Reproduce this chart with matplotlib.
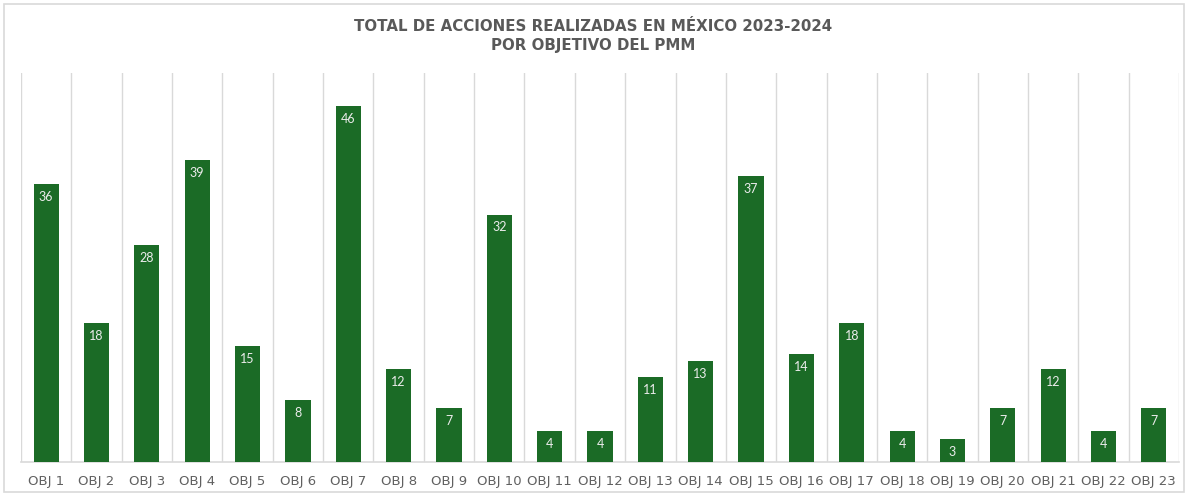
import matplotlib
matplotlib.use('Agg')
import matplotlib.pyplot as plt
import numpy as np
from matplotlib.patches import Rectangle

# data
objetivos = ['OBJ ' + str(i) for i in range(1, 24)]
acciones = [36, 18, 28, 39, 15, 8, 46, 12, 7, 32, 4, 4, 11, 13, 37, 14, 18, 4, 3, 7, 12, 4, 7]

titulo = 'TOTAL DE ACCIONES REALIZADAS EN MÉXICO 2023-2024\nPOR OBJETIVO DEL PMM'

verde = '#1b6b26'
gris = '#595959'

fig = plt.figure(figsize=(11.86, 4.93), dpi=100)
ax = fig.add_axes([21/1186, 1 - 462/493, (1179 - 21)/1186, (462 - 73)/493])

x = np.arange(len(acciones))
bars = ax.bar(x, acciones, width=0.5, color=verde, zorder=3)

# vertical separators between categories
for b in np.arange(-0.5, len(acciones), 1.0):
    ax.axvline(b, color='#d9d9d9', lw=1, zorder=1)

for xi, v in zip(x, acciones):
    ax.text(xi, v - 0.9, str(v), ha='center', va='top', color='#ececec',
            fontsize=9, family='Lato', zorder=4)

ax.set_xlim(-0.5, len(acciones) - 0.5)
ax.set_ylim(0, 50.3)
ax.set_yticks([])
ax.set_xticks(x)
ax.set_xticklabels(objetivos, fontsize=9.5, color='#606060', family='DejaVu Sans')
ax.tick_params(axis='x', length=0, pad=9)
for s in ['top', 'left', 'right']:
    ax.spines[s].set_visible(False)
ax.spines['bottom'].set_color('#d9d9d9')
ax.spines['bottom'].set_linewidth(1.2)

fig.text(0.5, 1 - 36/493, titulo, ha='center', va='center', fontsize=10.8,
         fontweight='bold', color=gris, family='DejaVu Sans', linespacing=1.35)

# outer frame
fig.patches.append(Rectangle((4/1186, 0.002), 1180/1186, 1 - 4/493 - 0.002,
                             transform=fig.transFigure, fill=False,
                             edgecolor='#d9d9d9', lw=1.2))

fig.savefig('out.png', dpi=100)
